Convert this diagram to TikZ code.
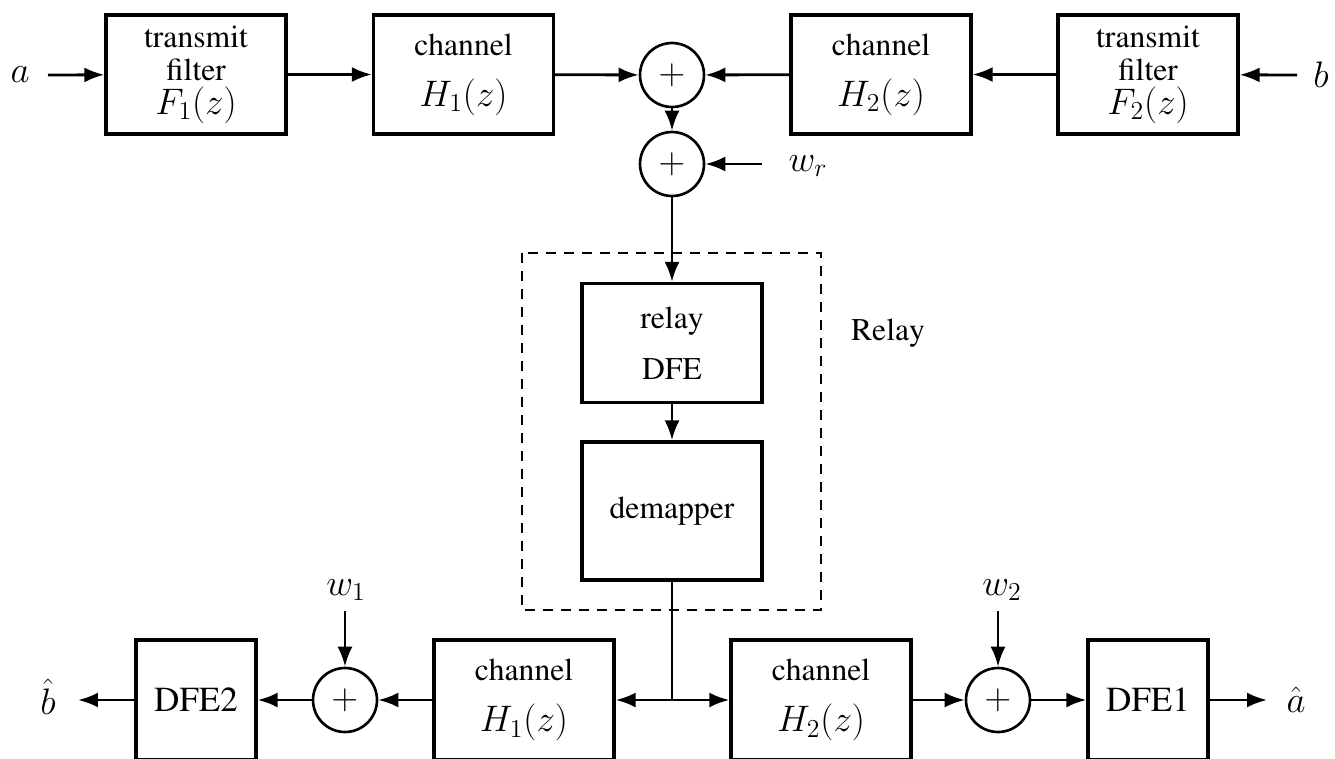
\RequirePackage{fix-cm}
\documentclass[tikz,border=0pt]{standalone}
\usepackage[T1]{fontenc}
\usepackage{times}
\usetikzlibrary{shapes,arrows.meta}
\tikzset{
	block/.style    = {draw, line width=1.9pt, rectangle, minimum height=2.38cm,
		minimum width=3.6cm, align=center, inner sep=0pt},
	sum/.style      = {draw, line width=1.5pt, circle, minimum size=1.28cm, inner sep=0pt},
	input/.style    = {coordinate}, % Input
	output/.style   = {coordinate}, % Output
	relaybox/.style = {draw, line width=0.8pt, dash pattern=on 0.2cm off 0.16cm}
}
\newcommand{\mth}[1]{{\fontsize{21}{22}\selectfont$#1$}}

\begin{document}
\begin{tikzpicture}[x=0.02cm, y=-0.02cm, line width=1.6pt, >={Latex[length=0.4cm,width=0.3cm]},
	font=\fontsize{18}{19}\selectfont]
	\clip (0,0) rectangle (1335,758);
	% transmitters and channels
	\draw
	node at (196,74.5)[block] (tf1) {transmit\\filter\\\mth{F_1(z)}}
	node at (463.5,74.5)[block] (ch1) {channel\\[10pt]\mth{H_1(z)}}
	node at (672,75)[sum] (s1) {\mth{+}}
	node at (881,74.5)[block] (ch2) {channel\\[10pt]\mth{H_2(z)}}
	node at (1148,74.5)[block] (tf2) {transmit\\filter\\\mth{F_2(z)}}
	node at (672,164)[sum] (s2) {\mth{+}};
	
	\draw
	node at (48,75)[input] (a) {} node at (20,75) {\mth{a}}
	node at (1297,75)[input] (b) {} node at (1321,75) {\mth{b}}
	node at (762,164)[input] (wr) {} node at (808,166) {\mth{w_r}};
	
	% relay
	\draw
	node at (672,343)[block] (rdfe) {relay\\[10pt]DFE}
	node at (672,511)[block, minimum height=2.76cm] (dem) {demapper}
	node at (888,333) (rl) {Relay};
	\draw[relaybox] (522,253) rectangle (821,610);
	
	% receivers
	\draw
	node at (196,700)[block, minimum width=2.4cm, minimum height=2.4cm, font=\fontsize{20}{22}\selectfont] (dfe2) {DFE2}
	node at (345,700)[sum] (sw1) {\mth{+}}
	node at (524,700)[block, minimum height=2.4cm] (bch1) {channel\\[10pt]\mth{H_1(z)}}
	node at (821,700)[block, minimum height=2.4cm] (bch2) {channel\\[10pt]\mth{H_2(z)}}
	node at (998,700)[sum] (sw2) {\mth{+}}
	node at (1148,700)[block, minimum width=2.4cm, minimum height=2.4cm, font=\fontsize{20}{22}\selectfont] (dfe1) {DFE1};
	
	\draw
	node at (345,611)[input] (w1) {} node at (346,590) {\mth{w_1}}
	node at (998,611)[input] (w2) {} node at (1002,590) {\mth{w_2}}
	node at (78,700)[output] (bh) {} node at (48,697) {\mth{\hat b}}
	node at (1267,700)[output] (ah) {} node at (1296,700) {\mth{\hat a}}
	node at (672,700)[coordinate] (split) {};
	
	\draw[->](a) -- (tf1);
	\draw[->](tf1) -- (ch1);
	\draw[->](ch1) -- (s1);
	\draw[->](b) -- (tf2);
	\draw[->](tf2) -- (ch2);
	\draw[->](ch2) -- (s1);
	\draw[->](s1) -- (s2);
	\draw[->](wr) -- (s2);
	\draw[->](s2) -- (rdfe);
	\draw[->](rdfe) -- (dem);
	\draw[-](dem) -- (split);
	\draw[->](split) -- (bch1);
	\draw[->](split) -- (bch2);
	\draw[->](bch1) -- (sw1);
	\draw[->](w1) -- (sw1);
	\draw[->](sw1) -- (dfe2);
	\draw[->](dfe2) -- (bh);
	\draw[->](bch2) -- (sw2);
	\draw[->](w2) -- (sw2);
	\draw[->](sw2) -- (dfe1);
	\draw[->](dfe1) -- (ah);
\end{tikzpicture}
\end{document}
